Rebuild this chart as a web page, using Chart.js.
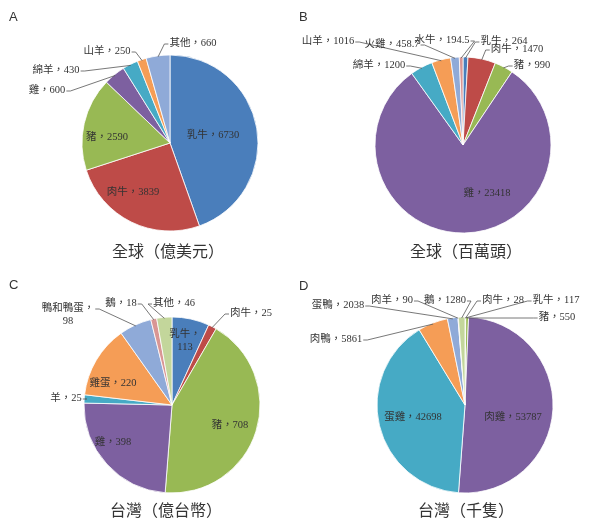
<!DOCTYPE html>
<html>
<head>
<meta charset="utf-8">
<script src="https://cdn.jsdelivr.net/npm/chart.js@4/dist/chart.umd.min.js"></script>
<style>
  body { margin: 0; background: #fff; }
  #wrap { position: relative; width: 590px; height: 518px; overflow: hidden; }
  .box { position: absolute; width: 295px; height: 259px; }
  .tag { position: absolute; font: 13px "Liberation Sans", Arial, sans-serif; color: #333; }
  .ttl { position: absolute; width: 200px; text-align: center; font: 16px "Noto Sans CJK TC", sans-serif; color: #333; }
</style>
</head>
<body>
<div id="wrap">
  <div class="box" style="left:0;top:0"><canvas id="pieA"></canvas></div>
  <div class="box" style="left:295px;top:0"><canvas id="pieB"></canvas></div>
  <div class="box" style="left:0;top:259px"><canvas id="pieC"></canvas></div>
  <div class="box" style="left:295px;top:259px"><canvas id="pieD"></canvas></div>
  <div class="tag" style="left:9px;top:9px">A</div>
  <div class="tag" style="left:299px;top:9px">B</div>
  <div class="tag" style="left:9px;top:277px">C</div>
  <div class="tag" style="left:299px;top:278px">D</div>
  <div class="ttl" style="left:68px;top:238px">全球（億美元）</div>
  <div class="ttl" style="left:366px;top:238px">全球（百萬頭）</div>
  <div class="ttl" style="left:66px;top:497px">台灣（億台幣）</div>
  <div class="ttl" style="left:366px;top:497px">台灣（千隻）</div>
</div>
<script>
"use strict";
// data
var catA = ['乳牛', '肉牛', '豬', '雞', '綿羊', '山羊', '其他'];
var valA = [6730, 3839, 2590, 600, 430, 250, 660];

var catB = ['乳牛', '肉牛', '豬', '雞', '綿羊', '山羊', '火雞', '水牛'];
var valB = [264, 1470, 990, 23418, 1200, 1016, 458.7, 194.5];

var catC = ['乳牛', '肉牛', '豬', '雞', '羊', '雞蛋', '鴨和鴨蛋', '鵝', '其他'];
var valC = [113, 25, 708, 398, 25, 220, 98, 18, 46];

var catD = ['乳牛', '肉牛', '豬', '肉雞', '蛋雞', '肉鴨', '蛋鴨', '肉羊', '鵝'];
var valD = [117, 28, 550, 53787, 42698, 5861, 2038, 90, 1280];

var palette = ['#4a7ebb', '#be4b48', '#98b954', '#7d60a0', '#46aac5', '#f59d56', '#8faad8', '#d99694', '#c3d69b'];

// label placement, offset from the pie centre; lead = leader line to the slice
var layA = [
    {dx: 43, dy: -8}, {dx: -37, dy: 49}, {dx: -63, dy: -6},
    {dx: -123, dy: -53, lead: true}, {dx: -114, dy: -73, lead: true},
    {dx: -63, dy: -92, lead: true}, {dx: 23, dy: -100, lead: true}
];
var layB = [
    {dx: 41, dy: -104, lead: true}, {dx: 54, dy: -96, lead: true}, {dx: 69, dy: -80, lead: true},
    {dx: 24, dy: 48}, {dx: -84, dy: -80, lead: true}, {dx: -135, dy: -104, lead: true},
    {dx: -71, dy: -101, lead: true}, {dx: -21, dy: -105, lead: true}
];
var layC = [
    {dx: 13, dy: -64, wrap: true}, {dx: 79, dy: -92, lead: true}, {dx: 58, dy: 20},
    {dx: -59, dy: 37}, {dx: -106, dy: -7, lead: true}, {dx: -59, dy: -22},
    {dx: -104, dy: -90, lead: true, wrap: true}, {dx: -51, dy: -102, lead: true}, {dx: 2, dy: -102, lead: true}
];
var layD = [
    {dx: 91, dy: -105, lead: true}, {dx: 38, dy: -105, lead: true}, {dx: 92, dy: -88, lead: true},
    {dx: 48, dy: 12}, {dx: -52, dy: 12}, {dx: -129, dy: -66, lead: true},
    {dx: -127, dy: -100, lead: true}, {dx: -73, dy: -105, lead: true}, {dx: -20, dy: -105, lead: true}
];

var labelFont = '10.5px "Liberation Serif", "Noto Sans CJK TC", serif';

var sliceLabels = {
    id: 'sliceLabels',
    afterDatasetsDraw: function(chart, args, opts) {
        var ctx = chart.ctx;
        var meta = chart.getDatasetMeta(0);
        var values = chart.data.datasets[0].data;
        var names = chart.data.labels;
        ctx.save();
        ctx.font = labelFont;
        ctx.textAlign = 'center';
        ctx.textBaseline = 'middle';
        meta.data.forEach(function(arc, i) {
            var lay = opts.layout[i];
            var p = arc.getProps(['x', 'y', 'startAngle', 'endAngle', 'outerRadius'], true);
            var lx = p.x + lay.dx, ly = p.y + lay.dy;
            var lines = lay.wrap ? [names[i] + '，', String(values[i])] : [names[i] + '，' + values[i]];
            var w = 0;
            lines.forEach(function(s) { w = Math.max(w, ctx.measureText(s).width); });
            if (lay.lead) {
                var mid = (p.startAngle + p.endAngle) / 2;
                var ax = p.x + Math.cos(mid) * (p.outerRadius - 1);
                var ay = p.y + Math.sin(mid) * (p.outerRadius - 1);
                var sx = ax > lx ? lx + w / 2 + 1 : lx - w / 2 - 1;
                var sy = lay.wrap ? ly - 6 : ly + 1;
                var ex = ax > lx ? sx + 4 : sx - 4;
                ctx.strokeStyle = '#555';
                ctx.lineWidth = 0.8;
                ctx.beginPath();
                ctx.moveTo(sx, sy);
                ctx.lineTo(ex, sy);
                ctx.lineTo(ax, ay);
                ctx.stroke();
            }
            ctx.fillStyle = '#333';
            lines.forEach(function(s, k) {
                ctx.fillText(s, lx, ly + (k - (lines.length - 1) / 2) * 13);
            });
        });
        ctx.restore();
    }
};

function makePie(id, cats, vals, lay, pad) {
    return new Chart(document.getElementById(id).getContext('2d'), {
        type: 'pie',
        data: {
            labels: cats,
            datasets: [{
                data: vals,
                backgroundColor: palette.slice(0, vals.length),
                borderColor: '#ffffff',
                borderWidth: 0.8,
                hoverOffset: 0
            }]
        },
        options: {
            responsive: false,
            animation: false,
            radius: 88,
            layout: { padding: pad },
            plugins: {
                legend: { display: false },
                tooltip: { enabled: false },
                sliceLabels: { layout: lay }
            }
        },
        plugins: [sliceLabels]
    });
}

['pieA', 'pieB', 'pieC', 'pieD'].forEach(function(id) {
    var c = document.getElementById(id);
    c.width = 295;
    c.height = 259;
});

makePie('pieA', catA, valA, layA, {left: 82, right: 37, top: 55, bottom: 28});
makePie('pieB', catB, valB, layB, {left: 80, right: 39, top: 57, bottom: 26});
makePie('pieC', catC, valC, layC, {left: 84, right: 35, top: 58, bottom: 25});
makePie('pieD', catD, valD, layD, {left: 82, right: 37, top: 58, bottom: 25});
</script>
</body>
</html>
